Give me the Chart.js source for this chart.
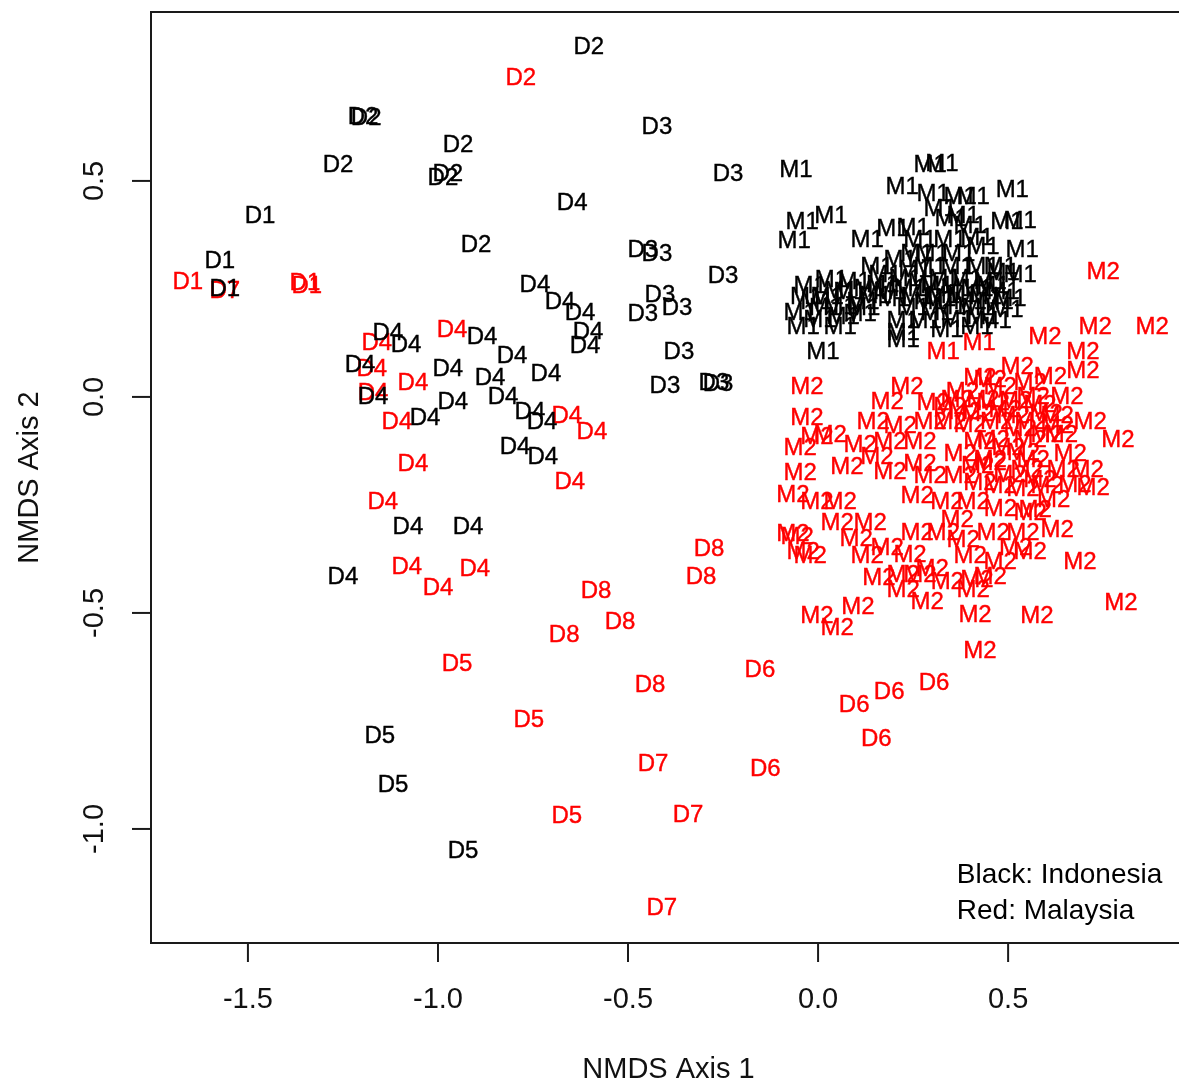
<!DOCTYPE html>
<html lang="en">
<head>
  <meta charset="UTF-8">
  <title>NMDS ordination – Indonesia vs Malaysia</title>
  <style>
    html, body {
      margin: 0;
      padding: 0;
      background: #fff;
      overflow: hidden;
    }
    .wrap {
      width: 1200px;
      height: 1086px;
    }
  </style>
</head>
<body>
  <div class="wrap">
    <canvas id="nmds" width="1200" height="1086"></canvas>
  </div>
  <script src="https://cdn.jsdelivr.net/npm/chart.js"></script>
  <script>
    // axis ticks
    const xTicks = [-1.5, -1.0, -0.5, 0.0, 0.5];
    const yTicks = [-1.0, -0.5, 0.0, 0.5];

    // NMDS scores [axis1, axis2] — Indonesia (black)
    const idnD1 = [[-1.468, 0.419], [-1.574, 0.313], [-1.561, 0.250]];
    const idnD2 = [[-0.603, 0.808], [-1.197, 0.648], [-1.189, 0.644], [-1.263, 0.535], [-0.947, 0.583],
      [-0.987, 0.505], [-0.974, 0.516], [-0.900, 0.350]];
    const idnD3 = [[-0.424, 0.623], [-0.237, 0.516], [-0.461, 0.340], [-0.424, 0.331], [-0.416, 0.234],
      [-0.461, 0.192], [-0.371, 0.206], [-0.250, 0.280], [-0.366, 0.102], [-0.403, 0.025],
      [-0.274, 0.032], [-0.263, 0.028]];
    const idnD4 = [[-0.647, 0.447], [-0.745, 0.259], [-0.679, 0.218], [-0.626, 0.194], [-0.605, 0.150],
      [-0.613, 0.118], [-1.132, 0.148], [-1.084, 0.120], [-1.205, 0.074], [-1.171, 0.000],
      [-0.974, 0.063], [-0.884, 0.137], [-0.805, 0.093], [-0.716, 0.053], [-0.863, 0.044],
      [-0.961, -0.012], [-1.034, -0.049], [-0.829, 0.000], [-0.758, -0.035], [-0.726, -0.058],
      [-0.797, -0.116], [-0.724, -0.141], [-1.079, -0.301], [-0.921, -0.301], [-1.250, -0.417]];
    const idnD5 = [[-1.153, -0.785], [-1.118, -0.898], [-0.934, -1.051]];
    const idnM1 = [[-0.058, 0.525], [0.295, 0.535], [0.326, 0.539], [0.221, 0.484], [0.303, 0.468],
      [0.374, 0.461], [0.408, 0.461], [0.511, 0.477], [-0.042, 0.405], [0.034, 0.417],
      [0.321, 0.433], [0.382, 0.417], [0.497, 0.405], [0.532, 0.407], [-0.063, 0.361],
      [0.129, 0.363], [0.197, 0.387], [0.250, 0.391], [0.268, 0.363], [0.347, 0.363],
      [0.418, 0.368], [0.434, 0.347], [0.537, 0.340], [0.155, 0.301], [0.216, 0.317],
      [0.295, 0.301], [0.366, 0.301], [0.434, 0.301], [0.487, 0.287], [-0.021, 0.255],
      [0.024, 0.231], [0.084, 0.241], [0.137, 0.248], [0.189, 0.241], [0.242, 0.248],
      [0.313, 0.255], [0.366, 0.248], [0.418, 0.248], [0.487, 0.241], [-0.003, 0.218],
      [0.058, 0.208], [0.118, 0.218], [0.295, 0.218], [0.347, 0.208], [0.400, 0.218],
      [0.471, 0.218], [-0.047, 0.194], [0.005, 0.178], [0.066, 0.185], [0.224, 0.174],
      [0.313, 0.194], [0.366, 0.178], [0.434, 0.185], [0.497, 0.201], [-0.039, 0.162],
      [0.058, 0.162], [0.224, 0.148], [0.339, 0.155], [0.418, 0.162], [0.013, 0.104],
      [0.224, 0.132], [0.176, 0.282], [0.255, 0.294], [0.334, 0.271], [0.453, 0.266],
      [0.111, 0.190], [0.282, 0.174], [0.466, 0.174], [0.532, 0.282], [0.505, 0.225],
      [0.150, 0.232], [0.200, 0.225], [0.260, 0.230], [0.330, 0.232], [0.380, 0.236],
      [0.440, 0.230], [0.095, 0.265], [0.170, 0.258], [0.230, 0.272], [0.280, 0.262],
      [0.390, 0.272], [0.460, 0.255], [0.060, 0.245], [0.120, 0.205], [0.250, 0.205],
      [0.320, 0.225], [0.420, 0.205], [0.480, 0.300], [0.300, 0.330], [0.370, 0.330],
      [0.260, 0.330], [0.020, 0.205], [-0.030, 0.230], [0.035, 0.270], [0.400, 0.395],
      [0.350, 0.410]];

    // NMDS scores [axis1, axis2] — Malaysia (red)
    const mysD1 = [[-1.658, 0.266], [-1.350, 0.262], [-1.345, 0.257]];
    const mysD2 = [[-0.782, 0.738]];
    const mysD4 = [[-0.963, 0.155], [-1.161, 0.125], [-1.174, 0.063], [-1.066, 0.032], [-1.171, 0.009],
      [-1.108, -0.060], [-1.066, -0.157], [-1.145, -0.243], [-0.661, -0.046], [-0.595, -0.083],
      [-0.653, -0.197], [-1.082, -0.394], [-0.903, -0.400], [-1.000, -0.442]];
    const mysD5 = [[-0.950, -0.618], [-0.761, -0.748], [-0.661, -0.970]];
    const mysD6 = [[-0.153, -0.634], [0.305, -0.664], [0.187, -0.683], [0.095, -0.713], [0.153, -0.792],
      [-0.139, -0.863]];
    const mysD7 = [[-1.561, 0.245], [-0.434, -0.850], [-0.342, -0.968], [-0.411, -1.185]];
    const mysD8 = [[-0.287, -0.352], [-0.308, -0.417], [-0.584, -0.451], [-0.521, -0.521], [-0.668, -0.551],
      [-0.442, -0.667]];
    const mysM1 = [[0.329, 0.104], [0.424, 0.123]];
    const mysM2 = [[0.750, 0.289], [0.729, 0.160], [0.879, 0.160], [0.597, 0.139], [0.697, 0.102],
      [0.697, 0.058], [0.524, 0.069], [0.611, 0.046], [0.453, 0.039], [0.479, 0.023],
      [0.558, 0.032], [0.655, 0.000], [0.461, -0.014], [0.566, 0.000], [0.513, -0.046],
      [0.629, -0.046], [0.716, -0.058], [0.629, -0.069], [0.789, -0.100], [0.461, -0.100],
      [0.558, -0.100], [0.603, -0.088], [0.453, -0.146], [0.566, -0.146], [0.550, -0.169],
      [0.645, -0.169], [0.708, -0.169], [0.479, -0.208], [0.603, -0.208], [0.724, -0.211],
      [0.571, -0.262], [-0.029, 0.023], [0.234, 0.021], [0.182, -0.012], [0.303, -0.014],
      [0.366, -0.007], [0.434, -0.007], [0.426, 0.044], [-0.029, -0.049], [0.145, -0.058],
      [0.216, -0.069], [0.295, -0.060], [0.347, -0.060], [0.400, -0.065], [-0.003, -0.093],
      [0.032, -0.088], [-0.047, -0.118], [0.111, -0.111], [0.189, -0.106], [0.268, -0.106],
      [0.426, -0.106], [0.155, -0.139], [0.076, -0.164], [-0.047, -0.176], [0.189, -0.174],
      [0.268, -0.157], [0.295, -0.185], [0.374, -0.185], [0.453, -0.153], [0.426, -0.199],
      [-0.066, -0.227], [-0.003, -0.245], [0.058, -0.243], [0.261, -0.231], [0.339, -0.243],
      [0.408, -0.245], [0.539, -0.215], [0.050, -0.292], [0.137, -0.292], [0.366, -0.285],
      [0.558, -0.269], [-0.066, -0.319], [-0.039, -0.359], [0.129, -0.370], [0.182, -0.350],
      [0.261, -0.315], [0.242, -0.366], [0.329, -0.315], [0.382, -0.331], [0.461, -0.315],
      [0.539, -0.315], [0.629, -0.308], [0.558, -0.359], [0.400, -0.370], [0.479, -0.384],
      [0.689, -0.382], [0.224, -0.412], [0.268, -0.412], [0.224, -0.447], [0.453, -0.417],
      [0.418, -0.424], [0.408, -0.447], [0.287, -0.475], [-0.003, -0.509], [0.050, -0.535],
      [0.105, -0.488], [0.413, -0.505], [0.576, -0.509], [0.797, -0.477], [0.426, -0.590],
      [-0.055, -0.324], [-0.021, -0.370], [0.347, -0.025], [0.387, -0.035], [0.492, -0.030],
      [0.584, -0.019], [0.532, -0.076], [0.374, -0.134], [0.505, -0.181], [0.663, -0.134],
      [0.584, -0.192], [0.676, -0.204], [0.380, 0.010], [0.420, -0.040], [0.470, -0.060],
      [0.520, -0.010], [0.560, -0.060], [0.600, -0.040], [0.640, -0.090], [0.500, -0.120],
      [0.540, -0.130], [0.420, -0.160], [0.620, -0.240], [0.480, -0.260], [0.300, -0.400],
      [0.340, -0.430], [0.520, -0.350], [0.160, -0.420], [0.100, -0.330]];

    const BLACK = '#000000';
    const RED = '#ff0000';
    const FONT = '"Liberation Sans", Arial, Helvetica, sans-serif';

    // red drawn first, black on top
    const groups = [
      ['D1', RED, mysD1], ['D2', RED, mysD2], ['D4', RED, mysD4], ['D5', RED, mysD5],
      ['D6', RED, mysD6], ['D7', RED, mysD7], ['D8', RED, mysD8], ['M1', RED, mysM1], ['M2', RED, mysM2],
      ['D1', BLACK, idnD1], ['D2', BLACK, idnD2], ['D3', BLACK, idnD3], ['D4', BLACK, idnD4],
      ['D5', BLACK, idnD5], ['M1', BLACK, idnM1]
    ];

    // each site is plotted as its group code, R text() style
    const textMarks = {
      id: 'textMarks',
      afterDatasetsDraw(chart) {
        const ctx = chart.ctx;
        ctx.save();
        ctx.font = '24px ' + FONT;
        ctx.textAlign = 'center';
        ctx.textBaseline = 'middle';
        ctx.lineWidth = 0.4;
        chart.data.datasets.forEach((ds, i) => {
          ctx.fillStyle = ds.textColor;
          ctx.strokeStyle = ds.textColor;
          chart.getDatasetMeta(i).data.forEach(pt => {
            ctx.fillText(ds.mark, pt.x, pt.y);
            ctx.strokeText(ds.mark, pt.x, pt.y);
          });
        });
        ctx.restore();
      }
    };

    // box, outward ticks and labels like base R graphics
    const rAxes = {
      id: 'rAxes',
      afterDraw(chart) {
        const ctx = chart.ctx;
        const { left, right, top, bottom } = chart.chartArea;
        const xs = chart.scales.x, ys = chart.scales.y;
        ctx.save();
        ctx.strokeStyle = '#1a1a1a';
        ctx.lineWidth = 2;
        ctx.strokeRect(left, top, right - left, bottom - top);

        ctx.fillStyle = '#111';
        ctx.font = '29px ' + FONT;
        ctx.textAlign = 'center';
        ctx.textBaseline = 'middle';
        xTicks.forEach(v => {
          const px = xs.getPixelForValue(v);
          ctx.beginPath();
          ctx.moveTo(px, bottom);
          ctx.lineTo(px, bottom + 19);
          ctx.stroke();
          ctx.fillText(v.toFixed(1), px, bottom + 57);
        });
        yTicks.forEach(v => {
          const py = ys.getPixelForValue(v);
          ctx.beginPath();
          ctx.moveTo(left - 19, py);
          ctx.lineTo(left, py);
          ctx.stroke();
          ctx.save();
          ctx.translate(left - 56, py);
          ctx.rotate(-Math.PI / 2);
          ctx.fillText(v.toFixed(1), 0, 0);
          ctx.restore();
        });

        // axis titles
        ctx.fillText('NMDS Axis 1', (left + right) / 2, bottom + 127);
        ctx.save();
        ctx.translate(30, (top + bottom) / 2);
        ctx.rotate(-Math.PI / 2);
        ctx.fillText('NMDS Axis 2', 0, 0);
        ctx.restore();

        // legend note
        ctx.font = '28px ' + FONT;
        ctx.textAlign = 'left';
        ctx.fillStyle = '#000';
        ctx.fillText('Black: Indonesia', xs.getPixelForValue(0.365), ys.getPixelForValue(-1.107));
        ctx.fillText('Red: Malaysia', xs.getPixelForValue(0.365), ys.getPixelForValue(-1.19));
        ctx.restore();
      }
    };

    new Chart(document.getElementById('nmds'), {
      type: 'scatter',
      data: {
        datasets: groups.map(([mark, color, pts]) => ({
          mark: mark,
          textColor: color,
          data: pts.map(([x, y]) => ({ x, y })),
          pointRadius: 0,
          pointHoverRadius: 0
        }))
      },
      options: {
        responsive: false,
        animation: false,
        layout: { padding: { top: 12, right: 14, left: 0, bottom: 0 } },
        plugins: { legend: { display: false }, tooltip: { enabled: false } },
        scales: {
          x: {
            type: 'linear',
            min: -1.755,
            max: 0.968,
            ticks: { display: false },
            grid: { display: false },
            border: { display: false },
            afterFit(scale) { scale.height = 143; }
          },
          y: {
            type: 'linear',
            min: -1.264,
            max: 0.891,
            ticks: { display: false },
            grid: { display: false },
            border: { display: false },
            afterFit(scale) { scale.width = 151; }
          }
        }
      },
      plugins: [textMarks, rAxes]
    });
  </script>
</body>
</html>
